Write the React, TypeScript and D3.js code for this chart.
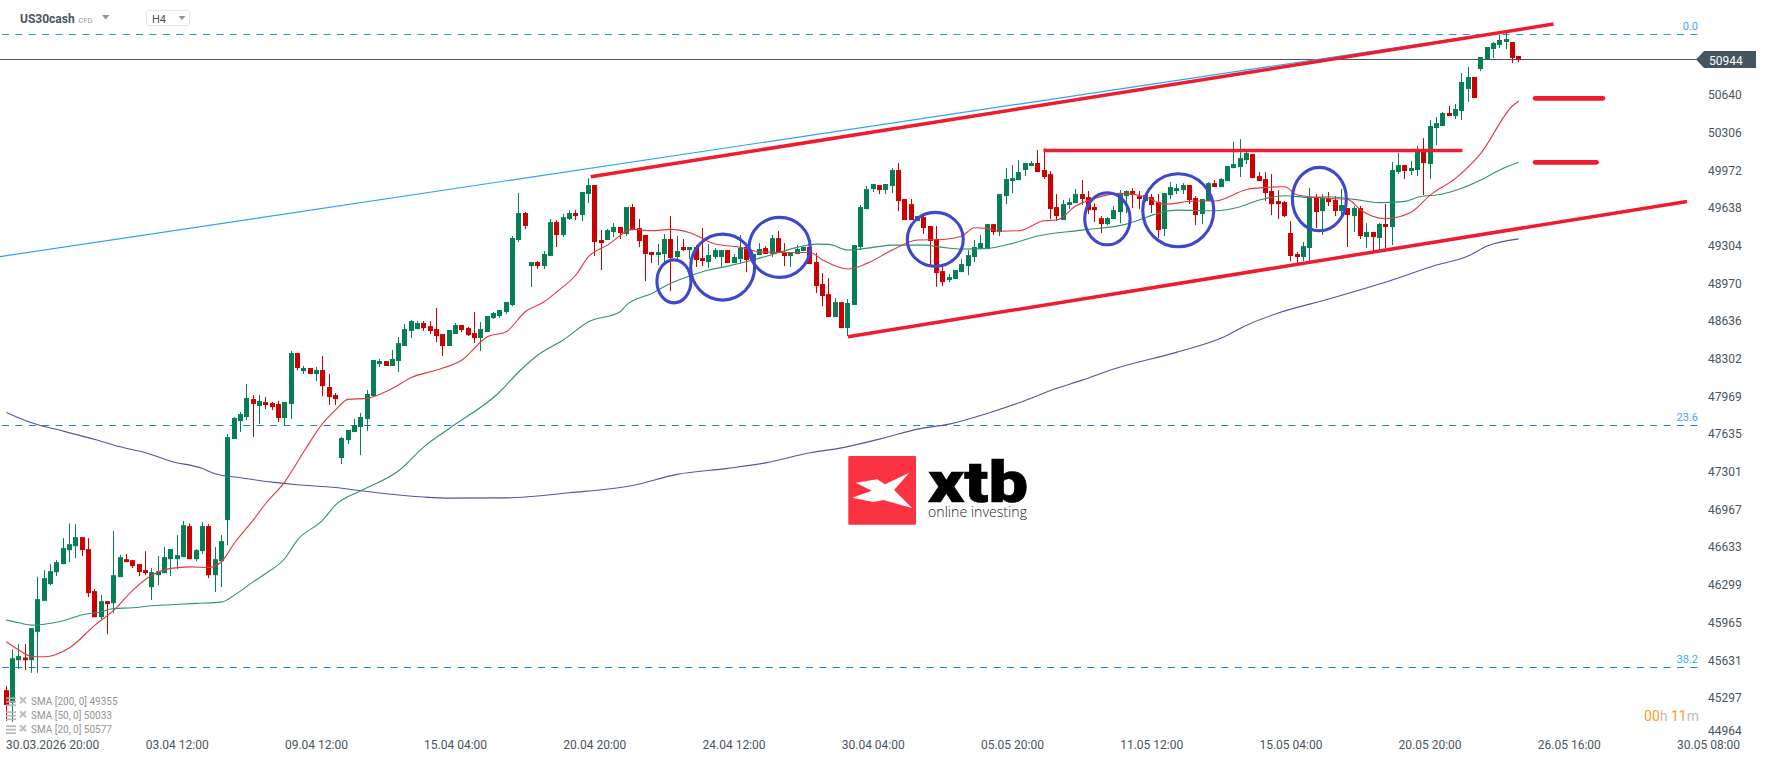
import * as d3 from 'd3';
import { useLayoutEffect, useRef } from 'react';

const WIDTH = 1768;
const HEIGHT = 761;

const opens = [
  45358,45246,45623,45647,45623,45874,46149,46297,46403,46474,
  46598,46633,46713,46607,46235,46004,46146,46128,46359,46518,
  46509,46474,46421,46270,46376,46394,46518,46518,46536,46811,
  46518,46589,46811,46376,46500,46864,47582,47741,47777,47936,
  47874,47910,47901,47892,47768,47892,48344,48184,48211,48158,
  48193,48043,47972,47414,47573,47644,47688,47759,47963,48246,
  48273,48229,48273,48406,48539,48556,48610,48583,48556,48512,
  48406,48512,48592,48565,48521,48477,48530,48654,48672,48707,
  48769,49345,49584,49114,49150,49114,49203,49504,49389,49531,
  49584,49566,49752,49832,49345,49345,49416,49460,49398,49637,
  49451,49389,49238,49212,49221,49354,49194,49283,49256,49283,
  49185,49150,49194,49194,49256,49141,49176,49283,49159,49212,
  49274,49221,49362,49238,49203,49221,49247,49283,49150,48955,
  48866,48663,48795,48565,48769,49283,49619,49796,49832,49788,
  49823,49965,49708,49663,49513,49548,49469,49353,49070,48990,
  48999,49061,49114,49194,49265,49265,49486,49415,49734,49867,
  49876,49965,50000,50027,49965,49929,49637,49522,49655,49672,
  49752,49725,49637,49539,49486,49531,49593,49734,49779,49734,
  49690,49725,49681,49442,49743,49779,49787,49832,49717,49575,
  49690,49849,49814,49867,49982,49991,50053,50106,49911,49885,
  49779,49690,49681,49407,49221,49194,49274,49717,49601,49717,
  49699,49602,49628,49557,49628,49371,49416,49363,49487,49460,
  49947,50009,49956,49965,50142,50018,50337,50355,50470,50443,
  50488,50683,50789,50860,50948,51037,51072,51099,51099,50975,
];
const highs = [
  45393,45718,45765,45765,45907,46362,46421,46474,46509,46704,
  46834,46828,46713,46704,46252,46199,46146,46766,46554,46563,
  46509,46474,46589,46439,46545,46625,46607,46731,46855,46834,
  46607,46846,46828,46625,46731,47626,47777,47821,48069,47972,
  47972,47954,47910,47919,47910,48362,48344,48229,48211,48220,
  48317,48158,47989,47600,47662,47759,47812,48016,48282,48291,
  48273,48370,48486,48601,48636,48627,48627,48627,48742,48512,
  48548,48610,48592,48574,48707,48618,48672,48707,48725,48796,
  49380,49761,49593,49150,49159,49247,49531,49522,49575,49610,
  49610,49770,49894,49832,49433,49442,49495,49460,49637,49664,
  49531,49389,49238,49309,49398,49557,49380,49354,49283,49300,
  49451,49309,49274,49256,49256,49221,49389,49283,49221,49318,
  49292,49389,49424,49318,49238,49300,49283,49300,49230,49052,
  49008,48831,48795,48822,49300,49655,49823,49841,49832,49841,
  49982,50027,49708,49708,49557,49557,49469,49469,49123,49043,
  49079,49176,49256,49345,49389,49486,49486,49752,49982,50009,
  50053,50027,50044,50142,50157,49956,49752,49699,49717,49796,
  49876,49779,49672,49557,49548,49646,49787,49787,49805,49779,
  49760,49752,49752,49761,49858,49841,49849,49832,49734,49708,
  49858,49876,49894,50000,50213,50239,50124,50106,49947,49947,
  49929,49787,49690,49513,49238,49327,49805,49752,49752,49770,
  49735,49797,49628,49646,49646,49495,49416,49495,49664,50036,
  50116,50009,50045,50178,50248,50408,50435,50479,50532,50550,
  50824,50877,50789,50966,51055,51099,51161,51179,51099,50975,
];
const lows = [
  45086,45077,45547,45535,45511,45511,46149,46288,46368,46474,
  46492,46527,46545,46182,46004,45987,45854,46040,46359,46492,
  46439,46368,46376,46155,46288,46394,46368,46430,46536,46518,
  46500,46563,46350,46226,46270,46642,47582,47644,47750,47600,
  47715,47848,47839,47733,47706,47759,48193,48158,48158,48096,
  47963,47883,47883,47360,47538,47644,47440,47653,47963,48220,
  48229,48229,48175,48406,48477,48556,48539,48512,48441,48317,
  48406,48512,48530,48494,48432,48362,48530,48645,48654,48689,
  48760,49327,49442,48928,49088,49088,49203,49283,49371,49522,
  49522,49513,49672,49203,49079,49345,49371,49354,49380,49433,
  49283,48981,49141,49123,49150,48893,49168,49247,49176,49106,
  49114,49097,49176,49097,49141,49141,49141,49061,49150,49212,
  49221,49194,49238,49114,49106,49221,49247,49132,48875,48760,
  48663,48663,48565,48494,48769,49256,49619,49770,49752,49752,
  49761,49601,49522,49522,49513,49398,49108,48931,48937,48972,
  48999,49061,49034,49150,49265,49265,49389,49380,49663,49761,
  49876,49911,50000,49947,49885,49531,49513,49522,49619,49672,
  49655,49575,49504,49407,49474,49531,49495,49581,49628,49619,
  49681,49584,49362,49380,49708,49752,49752,49663,49477,49486,
  49690,49814,49814,49867,49982,49903,50018,49894,49867,49690,
  49566,49531,49548,49158,49132,49158,49158,49451,49389,49646,
  49557,49552,49283,49416,49354,49274,49247,49256,49274,49301,
  49930,49885,49921,49912,49743,49885,50186,50355,50443,50417,
  50408,50567,50603,50842,50948,50957,51046,51037,50913,50922,
];
const closes = [
  45225,45641,45659,45623,45907,46164,46350,46412,46492,46616,
  46651,46713,46598,46217,46004,46146,46120,46376,46536,46492,
  46456,46403,46394,46403,46412,46536,46607,46554,46819,46518,
  46598,46811,46376,46518,46678,47599,47768,47803,47945,47892,
  47919,47883,47865,47768,47910,48344,48211,48211,48158,48193,
  48051,47954,47936,47591,47662,47706,47777,47981,48282,48273,
  48229,48291,48432,48556,48627,48610,48565,48539,48494,48406,
  48548,48592,48548,48503,48477,48556,48672,48698,48725,48796,
  49363,49584,49469,49150,49114,49221,49504,49389,49548,49584,
  49557,49770,49832,49327,49318,49433,49460,49407,49637,49433,
  49336,49221,49212,49238,49354,49185,49247,49256,49283,49168,
  49159,49212,49256,49256,49141,49194,49274,49168,49221,49265,
  49221,49362,49238,49203,49238,49265,49283,49132,48937,48849,
  48663,48795,48565,48787,49300,49637,49796,49841,49788,49841,
  49965,49690,49522,49522,49557,49451,49336,49052,48972,49017,
  49079,49132,49212,49283,49318,49486,49415,49752,49885,49894,
  49947,50027,50027,49947,49903,49619,49557,49663,49681,49752,
  49708,49610,49610,49486,49539,49610,49752,49779,49743,49708,
  49743,49655,49433,49761,49814,49805,49832,49699,49566,49708,
  49849,49814,49885,50000,50018,50071,50115,49894,49867,49761,
  49663,49663,49557,49203,49194,49291,49725,49593,49717,49681,
  49602,49655,49566,49628,49380,49416,49371,49487,49460,49965,
  50009,49956,49983,50133,50027,50355,50381,50470,50443,50505,
  50745,50789,50603,50966,51055,51090,51117,51125,50957,50944,
];

// moving averages at these bars
const sma20Bars = [0,2,4,6,10,14,17,20,23,26,29,32,34,36,39,41,44,47,50,52,54,57,61,64,68,72,76,79,82,85,87,90,92,95,99,102,105,108,112,116,119,123,127,129,133,136,140,144,148,151,153,155,157,160,164,166,169,172,176,180,183,188,191,196,199,202,204,209,212,214,218,222,225,229,233,238,239];
const sma20Values = [45786,45712,45656,45653,45733,45934,46066,46244,46376,46436,46450,46444,46495,46657,46864,47011,47203,47469,47720,47838,47933,47942,48030,48128,48193,48282,48488,48533,48710,48798,48887,49035,49197,49300,49439,49427,49439,49410,49309,49280,49241,49235,49235,49168,49088,49138,49256,49345,49350,49380,49454,49448,49424,49427,49516,49522,49646,49714,49758,49728,49663,49690,49690,49793,49811,49817,49743,49714,49705,49611,49534,49590,49743,49891,50113,50532,50577];
const sma50Bars = [0,2,4,6,9,12,15,17,20,23,26,30,34,36,39,41,44,46,50,52,56,62,66,70,78,81,84,88,92,97,98,102,105,108,111,114,118,122,125,128,130,133,137,140,145,148,151,155,159,163,170,177,179,182,185,191,195,198,202,206,209,213,217,221,223,227,230,233,236,239];
const sma50Values = [45978,45954,45934,45942,45972,46025,46052,46081,46087,46105,46114,46126,46137,46199,46317,46391,46524,46687,46864,46997,47124,47301,47513,47676,48001,48178,48326,48459,48621,48710,48769,48872,48961,49026,49079,49114,49168,49232,49280,49309,49306,49256,49280,49300,49300,49280,49265,49271,49315,49380,49433,49486,49522,49581,49610,49604,49640,49699,49737,49722,49728,49705,49676,49687,49723,49752,49803,49876,49965,50033];
const sma200Bars = [0,4,9,14,18,22,26,31,33,37,42,46,52,56,60,66,70,79,89,99,106,114,120,127,132,139,144,149,155,160,166,170,175,185,192,196,201,209,219,226,231,234,239];
const sma200Values = [47818,47726,47652,47578,47513,47460,47386,47321,47274,47239,47200,47177,47153,47124,47097,47068,47059,47061,47106,47171,47269,47322,47371,47460,47504,47596,47670,47714,47809,47903,48031,48104,48202,48352,48476,48591,48698,48822,48990,49123,49203,49291,49355];

const priceTicks = [50640,50306,49972,49638,49304,48970,48636,48302,47969,47635,47301,46967,46633,46299,45965,45631,45297,44964];
const timeTicks = ['30.03.2026 20:00','03.04 12:00','09.04 12:00','15.04 04:00','20.04 20:00','24.04 12:00','30.04 04:00','05.05 20:00','11.05 12:00','15.05 04:00','20.05 20:00','26.05 16:00','30.05 08:00'];
const timeTickBars = [5,27,49,71,93,115,137,159,181,203,225,247,269];

const fibLevels = [51167, 47703, 45559];
const fibLabels = ['0.0', '23.6', '38.2'];
const lastPrice = 50944;
const legendLabels = ['SMA [200, 0] 49355', 'SMA [50, 0] 50033', 'SMA [20, 0] 50577'];

// drawn trend lines as [bar, price, bar, price]
const blueTrend = [-1, 49198, 230.8, 51143];
const redTrends = [
  [92.35, 49905, 244.5, 51258],
  [163.9, 50139, 230.1, 50139],
  [133, 48488, 265.6, 49687],
];
const targetMarks = [
  [241.6, 50600, 252.3, 50600],
  [241.6, 50033, 251.3, 50033],
];
// hand drawn circles: centre bar, centre price, radius x, radius y
const circles = [
  [105.5, 48979, 17, 21.5],
  [113.2, 49105, 32, 33],
  [122.2, 49280, 30.5, 30],
  [146.8, 49351, 28, 27],
  [174, 49533, 22.7, 26],
  [185.2, 49608, 35.5, 36.5],
  [207.5, 49708, 27, 31.7],
];

const App = () => {
  const ref = useRef(null);

  useLayoutEffect(() => {
    const x = d3.scaleLinear().domain([0, 239]).range([6.33, 1518.7]);
    const y = d3.scaleLinear().domain([50944, 45297]).range([59.5, 697]);

    const svg = d3.select(ref.current);
    svg.selectAll('*').remove();
    svg.append('rect').attr('width', WIDTH).attr('height', HEIGHT).attr('fill', '#fff');

    const font = 'Roboto, sans-serif';
    const ink = '#4a5560';

    // watermark
    const logo = svg.append('g');
    logo.append('rect').attr('x', 848.3).attr('y', 456).attr('width', 67.7).attr('height', 68.7).attr('rx', 1).attr('fill', '#fb3242');
    logo.append('polygon')
      .attr('points', '855.7,482.7 877.3,479.3 885,484.3 909.3,472.7 894,490 912,508 883.3,500 873.3,502 852.3,497.7 871.7,490.7')
      .attr('fill', '#fff');
    logo.append('text').attr('x', 928).attr('y', 501.7).attr('font-family', font).attr('font-weight', 900)
      .attr('font-size', 57).attr('textLength', 100).attr('lengthAdjust', 'spacingAndGlyphs').attr('fill', '#000')
      .attr('stroke', '#000').attr('stroke-width', 0.6).text('xtb');
    logo.append('text').attr('x', 928).attr('y', 517).attr('font-family', '"Open Sans", sans-serif').attr('font-weight', 300)
      .attr('font-size', 14.5).attr('textLength', 99).attr('lengthAdjust', 'spacingAndGlyphs').attr('fill', '#222').text('online investing');

    // fibonacci levels
    fibLevels.forEach((level, i) => {
      const py = Math.round(y(level)) + 0.5;
      svg.append('line').attr('x1', 2).attr('x2', 1700).attr('y1', py).attr('y2', py)
        .attr('stroke', i === 0 ? '#1e96f5' : '#1a80e0').attr('stroke-width', 1).attr('stroke-dasharray', '7 6.4');
      svg.append('text').attr('x', 1698).attr('y', py - 5).attr('text-anchor', 'end')
        .attr('font-family', font).attr('font-size', 11).attr('fill', '#3ea6ff').text(fibLabels[i]);
    });

    // last price
    const lastY = y(lastPrice);
    svg.append('line').attr('x1', 0).attr('x2', 1698).attr('y1', lastY).attr('y2', lastY).attr('stroke', ink).attr('stroke-width', 1);
    svg.append('path').attr('d', `M1696,${lastY}L1704,51H1756V68H1704Z`).attr('fill', '#455560');
    svg.append('text').attr('x', 1709).attr('y', lastY + 5.5).attr('font-family', font).attr('font-size', 12)
      .attr('fill', '#fff').text(String(lastPrice));

    // candles
    const bars = d3.range(opens.length);
    const candle = svg.append('g').selectAll('g').data(bars).join('g')
      .attr('fill', (i) => (closes[i] >= opens[i] ? '#067f55' : '#cc0000'));
    candle.append('rect')
      .attr('x', (i) => Math.floor(x(i)))
      .attr('width', 1)
      .attr('y', (i) => y(highs[i]))
      .attr('height', (i) => y(lows[i]) - y(highs[i]));
    candle.append('rect')
      .attr('x', (i) => Math.floor(x(i)) - 2)
      .attr('width', 5)
      .attr('y', (i) => y(Math.max(opens[i], closes[i])))
      .attr('height', (i) => Math.max(1, Math.abs(y(opens[i]) - y(closes[i]))));

    // moving averages
    const line = d3.line().curve(d3.curveMonotoneX).x((d) => x(d[0])).y((d) => y(d[1]));
    const sma = (barsIn, values, color) =>
      svg.append('path')
        .datum(barsIn.map((b, i) => [b, values[i]]))
        .attr('fill', 'none').attr('stroke', color).attr('stroke-width', 1.1).attr('d', line);
    sma(sma200Bars, sma200Values, '#4f55ad');
    sma(sma50Bars, sma50Values, '#2f9270');
    sma(sma20Bars, sma20Values, '#e2383f');

    // drawings
    const seg = (s, color, w, cap = 'butt') =>
      svg.append('line')
        .attr('x1', x(s[0])).attr('y1', y(s[1])).attr('x2', x(s[2])).attr('y2', y(s[3]))
        .attr('stroke', color).attr('stroke-width', w).attr('stroke-linecap', cap);
    seg(blueTrend, '#2aa3ff', 1.2);
    redTrends.forEach((s) => seg(s, '#ed1c2e', 3.5));
    targetMarks.forEach((s) => seg(s, '#ed1c2e', 4.8, 'round'));

    svg.append('g').selectAll('ellipse').data(circles).join('ellipse')
      .attr('cx', (c) => x(c[0])).attr('cy', (c) => y(c[1]))
      .attr('rx', (c) => c[2]).attr('ry', (c) => c[3])
      .attr('fill', 'none').attr('stroke', '#3f48cc').attr('stroke-width', 3.1);

    // price axis
    svg.append('g').selectAll('text').data(priceTicks).join('text')
      .attr('x', 1708).attr('y', (p) => Math.min(y(p), 730) + 5.3)
      .attr('font-family', font).attr('font-size', 12).attr('fill', ink).text((p) => p);

    // time axis
    svg.append('g').selectAll('text').data(timeTicks).join('text')
      .attr('x', (_, i) => (i === 0 ? 6 : x(timeTickBars[i])))
      .attr('y', 748.5)
      .attr('text-anchor', (_, i) => (i === 0 ? 'start' : 'middle'))
      .attr('font-family', font).attr('font-size', 12).attr('fill', ink).text((t) => t);

    // header
    svg.append('text').attr('x', 20).attr('y', 23).attr('font-family', font).attr('font-weight', 700)
      .attr('font-size', 12).attr('fill', ink).text('US30cash');
    svg.append('text').attr('x', 78.5).attr('y', 22.5).attr('font-family', font).attr('font-size', 7.5)
      .attr('fill', '#8d949b').text('CFD');
    svg.append('path').attr('d', 'M102,15H109.5L105.7,19.5Z').attr('fill', '#8d949b');
    svg.append('rect').attr('x', 146.5).attr('y', 10.5).attr('width', 43).attr('height', 15).attr('rx', 1.5)
      .attr('fill', '#fff').attr('stroke', '#e4e6e8');
    svg.append('text').attr('x', 152).attr('y', 23).attr('font-family', font).attr('font-size', 11)
      .attr('fill', ink).text('H4');
    svg.append('path').attr('d', 'M178.5,16H185.5L182,20Z').attr('fill', '#8d949b');

    // legend
    legendLabels.forEach((label, i) => {
      const ly = 701.3 + i * 14;
      const g = svg.append('g').attr('opacity', 0.9);
      [-4, -0.5, 3].forEach((d) =>
        g.append('rect').attr('x', 6).attr('y', ly + d).attr('width', 10).attr('height', 1.8).attr('fill', '#b3b3b3'));
      g.append('path').attr('d', `M20,${ly - 4}L26,${ly + 2}M26,${ly - 4}L20,${ly + 2}`)
        .attr('stroke', '#b8b8b8').attr('stroke-width', 2);
      g.append('text').attr('x', 31).attr('y', ly + 4).attr('font-family', font).attr('font-size', 10)
        .attr('fill', '#8a8a8a').text(label);
    });

    // countdown
    const timer = svg.append('text').attr('x', 1699).attr('y', 721).attr('text-anchor', 'end')
      .attr('font-family', font).attr('font-size', 14);
    [['00', '#ff9a1f'], ['h ', '#bdbdbd'], ['11', '#ff9a1f'], ['m', '#bdbdbd']].forEach(([t, c]) =>
      timer.append('tspan').attr('fill', c).text(t));
  }, []);

  return <svg ref={ref} width={WIDTH} height={HEIGHT} style={{ position: 'absolute', left: 0, top: 0 }} />;
};

export default App;
